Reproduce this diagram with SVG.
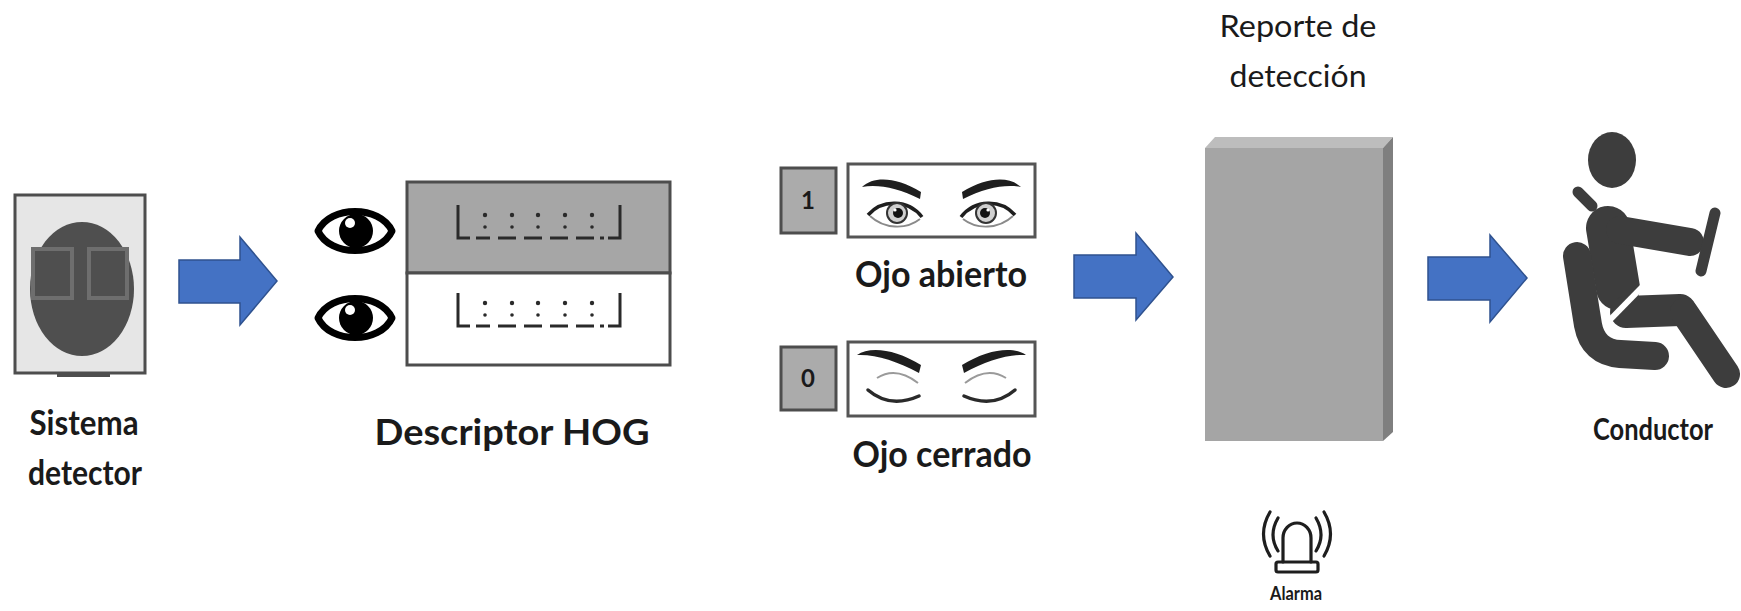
<svg xmlns="http://www.w3.org/2000/svg" width="1741" height="611" viewBox="0 0 1741 611">
  <style>
    .lbl { font-family: Lato, "Liberation Sans", sans-serif; font-weight: 700; fill: #1a1a1a; text-anchor: middle; }
    .lblr { font-family: Lato, "Liberation Sans", sans-serif; font-weight: 400; fill: #1a1a1a; text-anchor: middle; }
    .arrow { fill: #4472C4; stroke: #2F528F; stroke-width: 1.5; stroke-linejoin: miter; }
    .frame { stroke: #4d4d4d; stroke-width: 3; }
    .brow { fill: #1e1e1e; }
    .fig { stroke: #3d3d3d; stroke-linecap: round; fill: none; }
    .alarm { fill: none; stroke: #1e1e1e; stroke-width: 3.2; stroke-linecap: round; }
    .vec { fill: none; stroke: #2a2a2a; stroke-width: 3; }
    .dot { fill: #2a2a2a; }
  </style>
  <defs>
    <!-- bracketed feature vector glyph used in both HOG rows -->
    <g id="vector">
      <path class="vec" d="M0,0 V33 H12 M162,0 V33 H150"/>
      <path class="vec" d="M18,33 H32 M40,33 H58 M66,33 H84 M92,33 H110 M118,33 H136 M142,33 H146" stroke-width="2.5"/>
      <g class="dot">
        <circle cx="27" cy="10" r="2.2"/><circle cx="27" cy="22" r="1.8"/>
        <circle cx="54" cy="10" r="2.2"/><circle cx="54" cy="22" r="1.8"/>
        <circle cx="80" cy="10" r="2.2"/><circle cx="80" cy="22" r="1.8"/>
        <circle cx="107" cy="10" r="2.2"/><circle cx="107" cy="22" r="1.8"/>
        <circle cx="134" cy="10" r="2.2"/><circle cx="134" cy="22" r="1.8"/>
      </g>
    </g>
    <!-- eye pictogram -->
    <g id="eyeIcon">
      <path d="M-37,0 C-25,-26 25,-26 37,0 C25,26 -25,26 -37,0 Z" fill="#fff" stroke="#000" stroke-width="7" stroke-linejoin="round"/>
      <circle cx="1" cy="0" r="17" fill="#000"/>
      <circle cx="-5" cy="-8" r="5" fill="#fff"/>
    </g>
  </defs>

  <!-- Sistema detector -->
  <g id="sistema">
    <rect x="15" y="195" width="130" height="178" fill="#e6e6e6" class="frame"/>
    <rect x="57" y="373" width="53" height="4" fill="#4d4d4d"/>
    <ellipse cx="82" cy="289" rx="52" ry="67" fill="#4f4f4f"/>
    <rect x="33" y="249" width="39" height="49" fill="#4f4f4f" stroke="#6e6e6e" stroke-width="4"/>
    <rect x="89" y="249" width="38" height="49" fill="#4f4f4f" stroke="#6e6e6e" stroke-width="4"/>
    <text class="lbl" x="84" y="435" font-size="35" textLength="109" lengthAdjust="spacingAndGlyphs">Sistema</text>
    <text class="lbl" x="85" y="485" font-size="35" textLength="114" lengthAdjust="spacingAndGlyphs">detector</text>
  </g>

  <!-- Descriptor HOG -->
  <g id="hog">
    <use href="#eyeIcon" x="355" y="231"/>
    <use href="#eyeIcon" x="355" y="318"/>
    <rect x="407" y="182" width="263" height="91" fill="#a6a6a6" class="frame"/>
    <rect x="407" y="273" width="263" height="92" fill="#ffffff" class="frame"/>
    <use href="#vector" x="458" y="205"/>
    <use href="#vector" x="458" y="293"/>
    <text class="lbl" x="512" y="445" font-size="37" textLength="275" lengthAdjust="spacingAndGlyphs">Descriptor HOG</text>
  </g>

  <!-- Ojo abierto -->
  <g id="ojo-abierto">
    <rect x="781" y="168" width="55" height="65" fill="#ababab" class="frame"/>
    <text class="lbl" x="808" y="209" font-size="24">1</text>
    <rect x="848" y="164" width="187" height="73" fill="#ffffff" stroke="#555" stroke-width="3"/>
    <g id="open-left">
      <path class="brow" d="M862,187 C874,176 896,177 921,192 L920,199 C898,188 878,184 862,187 Z"/>
      <path d="M868,215 C882,199 908,199 922,217" fill="none" stroke="#1e1e1e" stroke-width="3.5"/>
      <path d="M870,216 C884,229 906,230 920,219" fill="none" stroke="#8a8a8a" stroke-width="1.8"/>
      <circle cx="897" cy="213" r="10" fill="#d0d0d0" stroke="#333" stroke-width="2"/>
      <circle cx="898" cy="213" r="5" fill="#111"/>
      <circle cx="895" cy="210" r="1.6" fill="#fff"/>
    </g>
    <use href="#open-left" transform="translate(1883,0) scale(-1,1)"/>
    <text class="lbl" x="941" y="287" font-size="36" textLength="172" lengthAdjust="spacingAndGlyphs">Ojo abierto</text>
  </g>

  <!-- Ojo cerrado -->
  <g id="ojo-cerrado">
    <rect x="781" y="347" width="55" height="63" fill="#ababab" class="frame"/>
    <text class="lbl" x="808" y="387" font-size="24">0</text>
    <rect x="848" y="342" width="187" height="74" fill="#ffffff" stroke="#555" stroke-width="3"/>
    <g id="closed-left">
      <path class="brow" d="M857,355 C870,346 895,349 921,365 L919,373 C897,361 875,354 857,355 Z"/>
      <path d="M877,378 Q896,366 918,383" fill="none" stroke="#9a9a9a" stroke-width="2"/>
      <path d="M868,390 Q890,409 919,396" fill="none" stroke="#2a2a2a" stroke-width="3.5" stroke-linecap="round"/>
    </g>
    <use href="#closed-left" transform="translate(1883,0) scale(-1,1)"/>
    <text class="lbl" x="942" y="467" font-size="37" textLength="179" lengthAdjust="spacingAndGlyphs">Ojo cerrado</text>
  </g>

  <!-- Reporte de detección -->
  <g id="reporte">
    <text class="lblr" x="1298" y="37" font-size="31" textLength="157" lengthAdjust="spacingAndGlyphs">Reporte de</text>
    <text class="lblr" x="1298" y="87" font-size="31" textLength="137" lengthAdjust="spacingAndGlyphs">detección</text>
    <polygon points="1205,148 1215,137 1393,137 1383,148" fill="#bdbdbd"/>
    <polygon points="1383,148 1393,137 1393,432 1383,441" fill="#7f7f7f"/>
    <rect x="1205" y="148" width="178" height="293" fill="#a5a5a5"/>
  </g>

  <!-- Alarma -->
  <g id="alarma">
    <path class="alarm" d="M1270,512 Q1257,534 1270,556 M1278,518 Q1268,535 1278,551"/>
    <path class="alarm" d="M1324,512 Q1337,534 1324,556 M1316,518 Q1326,535 1316,551"/>
    <path class="alarm" d="M1283,562 V538 A14,15 0 0 1 1311,538 V562"/>
    <rect x="1276" y="562" width="42" height="10" rx="2" class="alarm"/>
    <text class="lbl" x="1296" y="600" font-size="18" textLength="52" lengthAdjust="spacingAndGlyphs">Alarma</text>
  </g>

  <!-- Conductor -->
  <g id="conductor">
    <ellipse cx="1612" cy="160" rx="24" ry="28" fill="#3d3d3d"/>
    <line class="fig" x1="1578" y1="192" x2="1592" y2="206" stroke-width="11"/>
    <line class="fig" x1="1608" y1="228" x2="1618" y2="288" stroke-width="44"/>
    <line class="fig" x1="1620" y1="230" x2="1690" y2="242" stroke-width="28"/>
    <line class="fig" x1="1626" y1="312" x2="1680" y2="310" stroke-width="32"/>
    <line class="fig" x1="1684" y1="312" x2="1726" y2="374" stroke-width="28"/>
    <line x1="1647" y1="282" x2="1600" y2="330" stroke="#fff" stroke-width="6"/>
    <line class="fig" x1="1715" y1="213" x2="1701" y2="271" stroke-width="11"/>
    <path class="fig" d="M1577,256 L1588,325 Q1593,352 1620,354 L1655,356" stroke-width="28"/>
    <text class="lbl" x="1653" y="440" font-size="30" textLength="120" lengthAdjust="spacingAndGlyphs">Conductor</text>
  </g>

  <!-- flow arrows -->
  <g id="connectors">
    <polygon class="arrow" points="179,260 240,260 240,237 277,281 240,325 240,303 179,303"/>
    <polygon class="arrow" points="1074,255 1136,255 1136,233 1173,277 1136,320 1136,298 1074,298"/>
    <polygon class="arrow" points="1428,257 1490,257 1490,235 1527,278 1490,322 1490,300 1428,300"/>
  </g>
</svg>
